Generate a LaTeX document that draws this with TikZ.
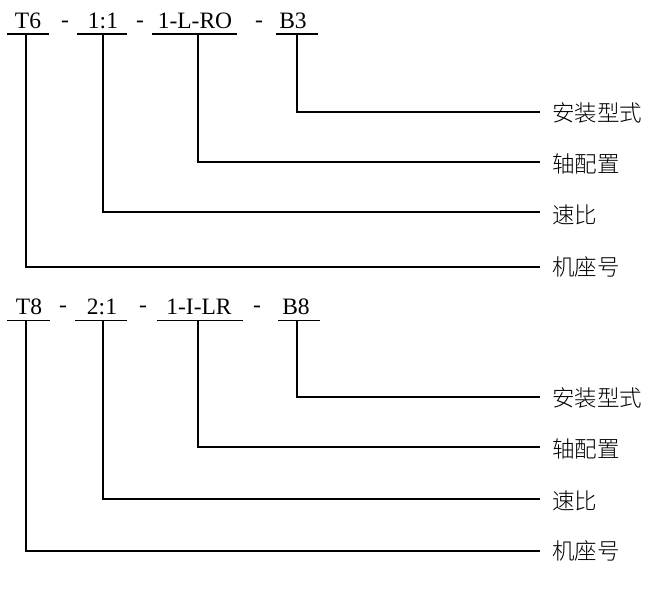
\documentclass[tikz,border=0pt]{standalone}
\usepackage{fontspec}
\setmainfont{Liberation Serif}
\newfontfamily\cjk{Noto Sans CJK SC}[UprightFont=* Light]
\begin{document}
\begin{tikzpicture}[x=1pt,y=-1pt,
  code/.style={anchor=base,inner sep=0pt,font=\fontsize{23.5}{23.5}\selectfont},
  lab/.style={anchor=west,inner sep=0pt,font=\cjk\fontsize{22.5}{22.5}\selectfont},
  ln/.style={line width=1.6pt},
  hook/.style={line width=1.6pt}]
\useasboundingbox (0,0) rectangle (650,610);
% ---------- top group ----------
\node[code] (tA) at (28,29) {T6};
\node[code] (dA1) at (65,28) {-};
\node[code] (tB) at (103,29) {1:1};
\node[code] (dA2) at (140,28) {-};
\node[code] (tC) at (195,29) {1-L-RO};
\node[code] (dA3) at (259,28) {-};
\node[code] (tD) at (293,29) {B3};
\draw[ln] (7,34) -- (49,34);
\draw[ln] (77,34) -- (127,34);
\draw[ln] (152,34) -- (237,34);
\draw[ln] (276,34) -- (318,34);
\coordinate (vA) at (26,34);
\coordinate (vB) at (103,34);
\coordinate (vC) at (198,34);
\coordinate (vD) at (297,34);
\node[lab] (l1) at (552,113) {安装型式};
\node[lab] (l2) at (552,164) {轴配置};
\node[lab] (l3) at (552,215) {速比};
\node[lab] (l4) at (552,267) {机座号};
\draw[hook] (vD) |- ([xshift=-12pt]l1.west |- 0,112);
\draw[hook] (vC) |- ([xshift=-12pt]l2.west |- 0,162);
\draw[hook] (vB) |- ([xshift=-12pt]l3.west |- 0,212);
\draw[hook] (vA) |- ([xshift=-12pt]l4.west |- 0,267);
% ---------- bottom group ----------
\node[code] (bA) at (29,314) {T8};
\node[code] (dB1) at (63,312) {-};
\node[code] (bB) at (102,314) {2:1};
\node[code] (dB2) at (143,312) {-};
\node[code] (bC) at (199,314) {1-I-LR};
\node[code] (dB3) at (257,312) {-};
\node[code] (bD) at (296,314) {B8};
\draw[ln] (7,320.5) -- (50,320.5);
\draw[ln] (75,320.5) -- (127,320.5);
\draw[ln] (157,320.5) -- (243,320.5);
\draw[ln] (278,320.5) -- (320,320.5);
\coordinate (wA) at (26,320.5);
\coordinate (wB) at (103,320.5);
\coordinate (wC) at (198,320.5);
\coordinate (wD) at (297,320.5);
\node[lab] (m1) at (552,398) {安装型式};
\node[lab] (m2) at (552,449) {轴配置};
\node[lab] (m3) at (552,501) {速比};
\node[lab] (m4) at (552,551) {机座号};
\draw[hook] (wD) |- ([xshift=-12pt]m1.west |- 0,397);
\draw[hook] (wC) |- ([xshift=-12pt]m2.west |- 0,447);
\draw[hook] (wB) |- ([xshift=-12pt]m3.west |- 0,499);
\draw[hook] (wA) |- ([xshift=-12pt]m4.west |- 0,551);
\end{tikzpicture}
\end{document}
